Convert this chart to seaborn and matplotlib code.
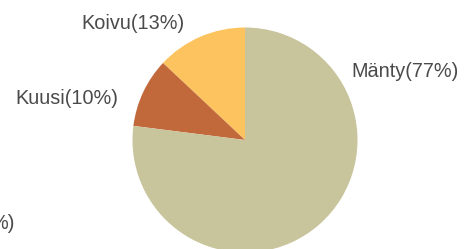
import matplotlib
matplotlib.use("Agg")
import matplotlib.pyplot as plt
import seaborn as sns

# Data
labels = ["Koivu(13%)", "Kuusi(10%)", "Mänty(77%)"]
shares = [13, 10, 77]
colors = ["#fcc35e", "#c2693c", "#c8c49b"]

sns.set_theme(style="white")
plt.rcParams['font.family'] = ['Liberation Sans', 'DejaVu Sans']

fig = plt.figure(figsize=(4.67, 2.49), dpi=100)
ax = fig.add_axes([0, 0, 1, 1])

# Pie, counterclockwise from the top
ax.pie(shares, colors=sns.color_palette(colors), startangle=90,
       radius=112.5, center=(245, 109), frame=True,
       wedgeprops=dict(linewidth=0))
ax.set_xlim(0, 467)
ax.set_ylim(0, 249)
ax.set_aspect('equal')
ax.axis('off')

# Labels
txt = dict(color="#4a4a4a", fontsize=14.3, va="center")
ax.text(133, 226, labels[0], ha="center", **txt)
ax.text(67, 151, labels[1], ha="center", **txt)
ax.text(405, 178, labels[2], ha="center", **txt)
ax.text(15, 26, "%)", ha="right", **txt)

fig.savefig("out.png", dpi=100)
